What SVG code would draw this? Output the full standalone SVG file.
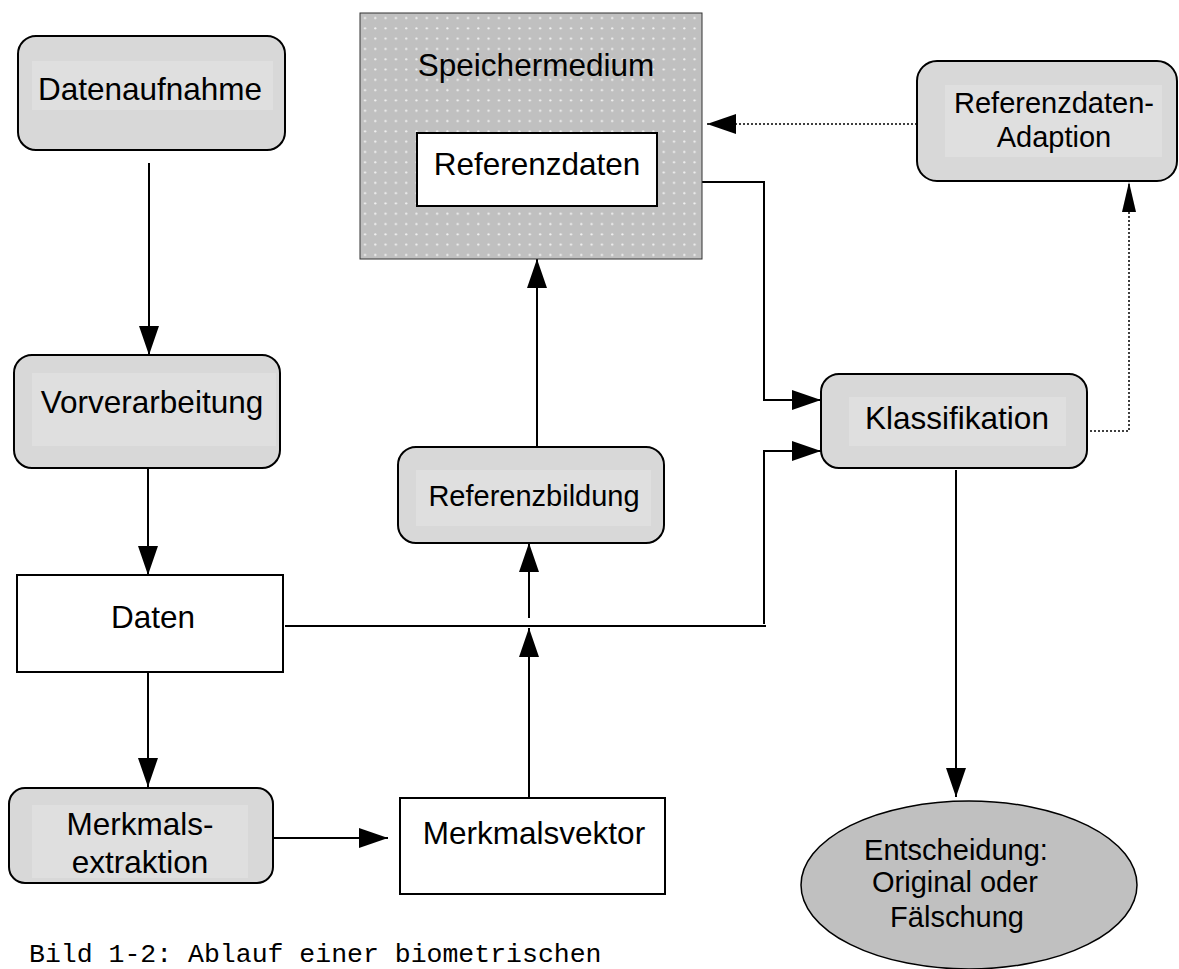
<svg xmlns="http://www.w3.org/2000/svg" width="1179" height="969" viewBox="0 0 1179 969">
<style>
.box{fill:#d8d8d8;stroke:#000;stroke-width:2}
.inner{fill:#dfdfdf;stroke:none}
.plain{fill:#fff;stroke:#000;stroke-width:2}
.t{font-family:"Liberation Sans",Arial,sans-serif;font-size:31.5px;fill:#000;text-anchor:middle}
.ts{font-family:"Liberation Sans",Arial,sans-serif;font-size:29px;fill:#000;text-anchor:middle}
.cap{font-family:"Liberation Mono","Courier New",monospace;font-size:26.5px;fill:#000}
.ln{fill:none;stroke:#000;stroke-width:2}
.dot{fill:none;stroke:#000;stroke-width:1.5;stroke-dasharray:2 2}
</style>
<defs>
<marker id="ah" markerUnits="userSpaceOnUse" markerWidth="30" markerHeight="20" refX="29" refY="10" orient="auto">
<path d="M0,0 L29,10 L0,20 z" fill="#000"/>
</marker>
<marker id="ahn" markerUnits="userSpaceOnUse" markerWidth="30" markerHeight="14" refX="30" refY="7" orient="auto">
<path d="M0,0 L30,7 L0,14 z" fill="#000"/>
</marker>
<pattern id="dots" patternUnits="userSpaceOnUse" width="10.3" height="10.3" x="360" y="13">
<rect width="10.3" height="10.3" fill="#c0c0c0"/>
<circle cx="5" cy="5" r="1.1" fill="#f2f2f2"/>
</pattern>
</defs>

<g id="connectors">
<line class="ln" x1="149" y1="163" x2="149" y2="355" marker-end="url(#ah)"/>
<line class="ln" x1="148" y1="463" x2="148" y2="575" marker-end="url(#ah)"/>
<line class="ln" x1="148" y1="672" x2="148" y2="787" marker-end="url(#ah)"/>
<line class="ln" x1="274" y1="838" x2="388" y2="838" marker-end="url(#ah)"/>
<line class="ln" x1="529" y1="798" x2="529" y2="628" marker-end="url(#ah)"/>
<line class="ln" x1="285" y1="626" x2="766" y2="626"/>
<path class="ln" d="M764,624 V451 H821" marker-end="url(#ah)"/>
<line class="ln" x1="529" y1="618" x2="529" y2="543" marker-end="url(#ah)"/>
<line class="ln" x1="537" y1="447" x2="537" y2="259" marker-end="url(#ah)"/>
<path class="ln" d="M667,182 H764 V400 H821" marker-end="url(#ah)"/>
<line class="ln" x1="956" y1="470" x2="956" y2="797" marker-end="url(#ah)"/>
<path class="dot" d="M1090,431 H1129 V182" marker-end="url(#ahn)"/>
<line class="dot" x1="917" y1="124" x2="707" y2="124" marker-end="url(#ah)"/>
</g>

<g id="datenaufnahme">
<rect class="box" x="18" y="36" width="267" height="114" rx="18"/>
<rect class="inner" x="32" y="61" width="241" height="49"/>
<text class="t" x="150" y="100">Datenaufnahme</text>
</g>

<g id="vorverarbeitung">
<rect class="box" x="14" y="355" width="266" height="113" rx="18"/>
<rect class="inner" x="32" y="373" width="244" height="73"/>
<text class="t" x="152" y="413">Vorverarbeitung</text>
</g>

<g id="daten">
<rect class="plain" x="17" y="575" width="266" height="97"/>
<text class="t" x="153" y="628">Daten</text>
</g>

<g id="merkmalsextraktion">
<rect class="box" x="9" y="788" width="264" height="95" rx="16"/>
<rect class="inner" x="32" y="805" width="216" height="73"/>
<text class="t" x="140" y="835">Merkmals-</text>
<text class="t" x="140" y="873">extraktion</text>
</g>

<g id="merkmalsvektor">
<rect class="plain" x="400" y="798" width="265" height="96"/>
<text class="t" x="534" y="844">Merkmalsvektor</text>
</g>

<g id="referenzbildung">
<rect class="box" x="398" y="447" width="266" height="96" rx="18"/>
<rect class="inner" x="416" y="470" width="235" height="56"/>
<text class="ts" x="534" y="506">Referenzbildung</text>
</g>

<g id="speichermedium">
<rect x="360" y="13" width="342" height="246" fill="url(#dots)" stroke="#333" stroke-width="1"/>
<text class="t" x="536" y="76">Speichermedium</text>
</g>

<g id="referenzdaten">
<rect class="plain" x="417" y="133" width="240" height="73"/>
<text class="t" x="537" y="175">Referenzdaten</text>
</g>

<g id="klassifikation">
<rect class="box" x="821" y="374" width="266" height="94" rx="18"/>
<rect class="inner" x="849" y="397" width="217" height="49"/>
<text class="t" x="957" y="429">Klassifikation</text>
</g>

<g id="referenzdaten-adaption">
<rect class="box" x="917" y="61" width="260" height="120" rx="20"/>
<rect class="inner" x="945" y="85" width="217" height="72"/>
<text class="ts" x="1054" y="113">Referenzdaten-</text>
<text class="ts" x="1054" y="147">Adaption</text>
</g>

<g id="entscheidung">
<ellipse cx="969" cy="885" rx="168" ry="84" fill="#c0c0c0" stroke="#000" stroke-width="1.5"/>
<text class="ts" x="956" y="860">Entscheidung:</text>
<text class="ts" x="955" y="892">Original oder</text>
<text class="ts" x="957" y="927">Fälschung</text>
</g>

<text class="cap" x="29" y="962">Bild 1-2: Ablauf einer biometrischen</text>
</svg>
